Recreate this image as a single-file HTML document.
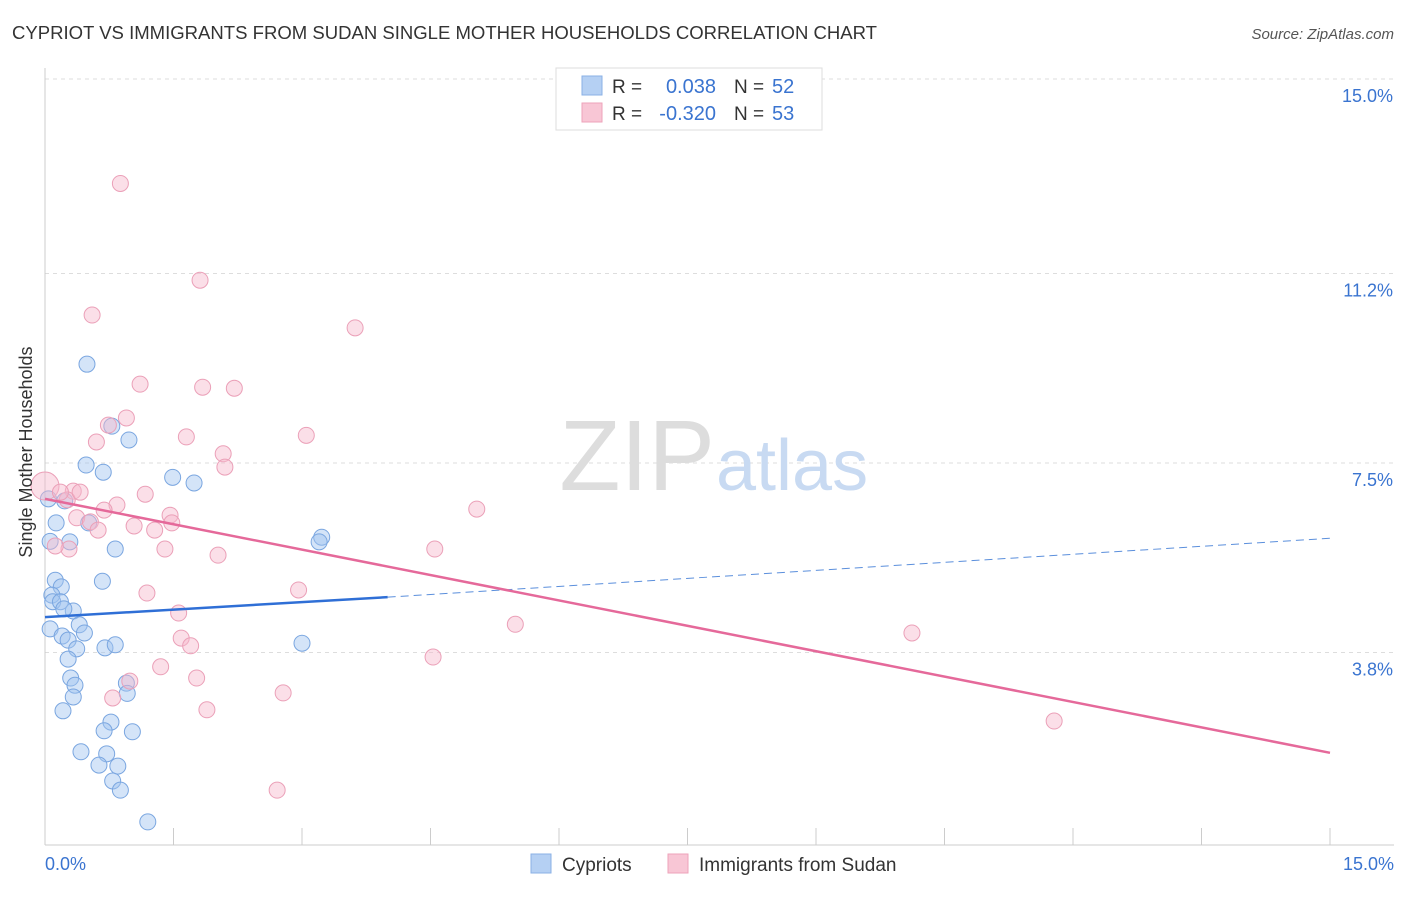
<!DOCTYPE html>
<html><head><meta charset="utf-8"><style>
body{margin:0;background:#fff;font-family:"Liberation Sans",sans-serif;}
svg text{font-family:"Liberation Sans",sans-serif;}
</style></head><body>
<svg width="1406" height="892">
<text x="12" y="39" font-size="18" fill="#333" textLength="865" lengthAdjust="spacingAndGlyphs">CYPRIOT VS IMMIGRANTS FROM SUDAN SINGLE MOTHER HOUSEHOLDS CORRELATION CHART</text>
<text x="1394" y="39" font-size="15" fill="#555" font-style="italic" text-anchor="end">Source: ZipAtlas.com</text>
<g id="grid"></g>
<text x="715" y="490" font-size="100" fill="#ddd" text-anchor="end" font-family="Liberation Serif">ZIP</text>
<text x="716" y="490" font-size="72" fill="#c8daf2">atlas</text>
<g id="pts"></g>
<g id="lines"></g>
<text x="36" y="456" font-size="18" fill="#333" text-anchor="middle" transform="rotate(-90 32 456)">Single Mother Households</text>
<text x="45" y="870" font-size="18" fill="#3a74d0">0.0%</text>
<text x="1394" y="870" font-size="18" fill="#3a74d0" text-anchor="end">15.0%</text>
<g>
<rect x="556" y="68" width="266" height="62" fill="#fff" stroke="#ddd"/>
<rect x="582" y="76" width="20" height="19" fill="#b5d0f3" stroke="#8ab0e6"/>
<rect x="582" y="103" width="20" height="19" fill="#f8c6d5" stroke="#eea3ba"/>
<text x="612" y="93" font-size="19" fill="#333">R =</text><text x="716" y="93" font-size="20" fill="#3a74d0" text-anchor="end">0.038</text>
<text x="734" y="93" font-size="19" fill="#333">N =</text><text x="772" y="93" font-size="20" fill="#3a74d0">52</text>
<text x="612" y="120" font-size="19" fill="#333">R =</text><text x="716" y="120" font-size="20" fill="#3a74d0" text-anchor="end">-0.320</text>
<text x="734" y="120" font-size="19" fill="#333">N =</text><text x="772" y="120" font-size="20" fill="#3a74d0">53</text>
</g>
<g>
<rect x="531" y="854" width="20" height="19" fill="#b5d0f3" stroke="#8ab0e6"/>
<text x="562" y="871" font-size="19" fill="#333">Cypriots</text>
<rect x="668" y="854" width="20" height="19" fill="#f8c6d5" stroke="#eea3ba"/>
<text x="699" y="871" font-size="19" fill="#333">Immigrants from Sudan</text>
</g>
</svg>
<script>
const yTicks=[3.8,7.5,11.2,15.0];
const xTicks=[0,1.5,3,4.5,6,7.5,9,10.5,12,13.5,15];
const cypX=[0.49,0.78,0.98,0.48,0.68,1.49,1.74,0.04,0.23,0.13,0.51,0.29,0.82,3.23,3.2,0.67,0.12,0.19,0.08,0.09,0.18,0.33,0.22,0.06,0.4,0.46,0.2,0.27,0.37,0.7,0.82,3.0,0.27,0.3,0.95,0.35,0.96,0.33,0.21,0.77,0.69,1.02,0.42,0.72,0.63,0.85,0.79,0.88,1.2,0.06];
const cypY=[9.43,8.22,7.95,7.46,7.32,7.22,7.11,6.8,6.76,6.33,6.33,5.96,5.82,6.05,5.96,5.19,5.21,5.08,4.92,4.79,4.79,4.61,4.65,4.26,4.34,4.18,4.12,4.04,3.87,3.89,3.95,3.98,3.67,3.3,3.2,3.16,3.0,2.93,2.66,2.44,2.27,2.25,1.86,1.82,1.6,1.58,1.29,1.11,0.49,5.97];
const sudX=[0.88,1.81,0.55,3.62,1.11,1.84,2.21,0.95,0.74,0.6,1.65,3.05,2.08,2.1,0.0,0.33,1.17,0.26,0.84,0.69,1.46,5.04,0.37,0.53,1.04,1.28,1.48,0.62,0.28,1.4,4.55,2.02,0.12,1.19,2.96,1.56,5.49,1.59,10.12,1.7,4.53,1.35,1.77,0.99,2.78,0.79,1.89,11.78,2.71,0.18,0.41];
const sudY=[12.96,11.07,10.39,10.14,9.04,8.98,8.96,8.38,8.24,7.91,8.01,8.04,7.68,7.42,7.05,6.95,6.89,6.78,6.68,6.58,6.48,6.6,6.43,6.35,6.27,6.19,6.33,6.19,5.82,5.82,5.82,5.7,5.88,4.96,5.02,4.57,4.35,4.08,4.18,3.93,3.71,3.52,3.3,3.24,3.01,2.91,2.68,2.46,1.11,6.93,6.93];
const blueLine={x0:0,y0:4.49,x1:4.0,y1:4.88,xEnd:15,yEnd:6.03};
const pinkLine={x0:0,y0:6.8,x1:15,y1:1.84};
const NS='http://www.w3.org/2000/svg';
const X=v=>45+v/15*1285, Y=v=>847-v/3.75*192;
function mk(t,a,p){const e=document.createElementNS(NS,t);for(const k in a)e.setAttribute(k,a[k]);p.appendChild(e);return e;}
const grid=document.getElementById('grid');
yTicks.forEach(t=>{
 const l=mk('line',{x1:45,x2:1394,y1:Y(t),y2:Y(t),stroke:'#ddd','stroke-dasharray':'4,4'},grid);
 
 
 const tx=mk('text',{x:1393,y:Y(t)+23,'font-size':18,fill:'#3a74d0','text-anchor':'end'},grid);
 tx.textContent=t.toFixed(1)+'%';
 
 
});
const ax=mk('line',{x1:45,x2:45,y1:68,y2:845,stroke:'#ccc'},grid);


const bx=mk('line',{x1:45,x2:1394,y1:845,y2:845,stroke:'#ccc'},grid);


xTicks.forEach(t=>{
 const l=mk('line',{x1:X(t),x2:X(t),y1:828,y2:845,stroke:'#ccc'},grid);
 
 
});
const pts=document.getElementById('pts');
cypX.forEach((v,i)=>{
 const c=mk('circle',{cx:X(v),cy:Y(cypY[i]),r:8,fill:'rgba(160,195,240,0.45)',stroke:'#7aa6e0','stroke-width':1},pts);
 
 
});
sudX.forEach((v,i)=>{
 const c=mk('circle',{cx:X(v),cy:Y(sudY[i]),r:i==14?14:8,fill:'rgba(246,185,205,0.45)',stroke:'#eba0b8','stroke-width':1},pts);
 
 
});
const ln=document.getElementById('lines');
const b1=mk('line',{x1:X(blueLine.x0),y1:Y(blueLine.y0),x2:X(blueLine.x1),y2:Y(blueLine.y1),stroke:'#2f6fd6','stroke-width':2.5},ln);


const b2=mk('line',{x1:X(blueLine.x1),y1:Y(blueLine.y1),x2:X(blueLine.xEnd),y2:Y(blueLine.yEnd),stroke:'#5b8fdc','stroke-width':1,'stroke-dasharray':'8,5'},ln);


const p1=mk('line',{x1:X(pinkLine.x0),y1:Y(pinkLine.y0),x2:X(pinkLine.x1),y2:Y(pinkLine.y1),stroke:'#e5699a','stroke-width':2.5},ln);


</script>
</body></html>
